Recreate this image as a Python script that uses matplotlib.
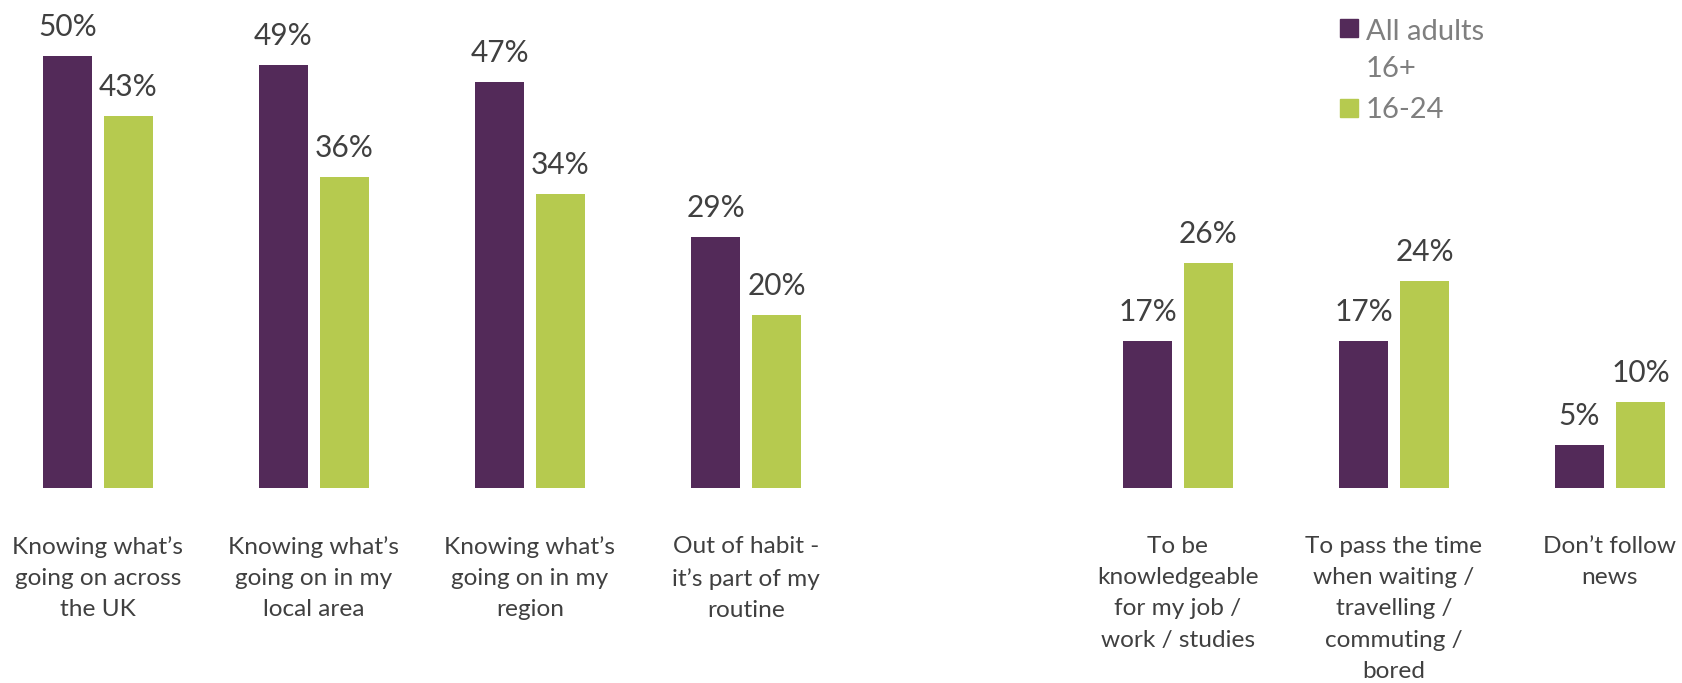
import matplotlib.pyplot as plt
import matplotlib.transforms as mtransforms
from matplotlib.patches import Rectangle
import numpy as np

plt.rcParams['font.family'] = ['Lato', 'DejaVu Sans']

categories = [
    "Knowing what\u2019s\ngoing on across\nthe UK",
    "Knowing what\u2019s\ngoing on in my\nlocal area",
    "Knowing what\u2019s\ngoing on in my\nregion",
    "Out of habit -\nit\u2019s part of my\nroutine",
    "To be\nknowledgeable\nfor my job /\nwork / studies",
    "To pass the time\nwhen waiting /\ntravelling /\ncommuting /\nbored",
    "Don\u2019t follow\nnews",
]
# slot 4 is left empty, like in the original
slots = [0, 1, 2, 3, 5, 6, 7]
all_adults = [50, 49, 47, 29, 17, 17, 5]
age_16_24 = [43, 36, 34, 20, 26, 24, 10]
series_names = ["All adults\n16+", "16-24"]

PURPLE = '#532A59'
GREEN = '#B6CA4F'
DARK = '#404040'
GREY = '#7F7F7F'

W, H = 1683, 683
fig = plt.figure(figsize=(W / 100, H / 100), dpi=100)
ax = fig.add_axes([0, 195 / H, 1, 475.2 / H])

x = np.array(slots, dtype=float)
bw = 0.227
off = 0.141
b1 = ax.bar(x - off, all_adults, bw, color=PURPLE)
b2 = ax.bar(x + off, age_16_24, bw, color=GREEN)

for bars, vals in ((b1, all_adults), (b2, age_16_24)):
    for b, v in zip(bars, vals):
        ax.annotate(f"{v}%", (b.get_x() + b.get_width() / 2, v),
                    xytext=(0, 14.4), textcoords='offset points',
                    ha='center', va='baseline', fontsize=21.5, color=DARK)

trans = mtransforms.blended_transform_factory(ax.transData, ax.transAxes)
for xs, lab in zip(slots, categories):
    ax.text(xs, -0.101, lab, transform=trans, ha='center', va='top',
            fontsize=17.6, color=DARK, linespacing=1.6)

xmin = -98 / 216
ax.set_xlim(xmin, xmin + W / 216)
ax.set_ylim(0, 55)
ax.axis('off')

# legend, handle level with the first line of each label
for (top, col), name, ty in zip(((19, PURPLE), (99, GREEN)), series_names, (29, 108)):
    fig.patches.append(Rectangle((1340 / W, 1 - (top + 18) / H), 18 / W, 18 / H,
                                 transform=fig.transFigure, color=col))
    fig.text(1366 / W, 1 - (ty - 10.5) / H, name, ha='left', va='top',
             fontsize=21, color=GREY, linespacing=1.55)

fig.savefig('out.png', dpi=100)
